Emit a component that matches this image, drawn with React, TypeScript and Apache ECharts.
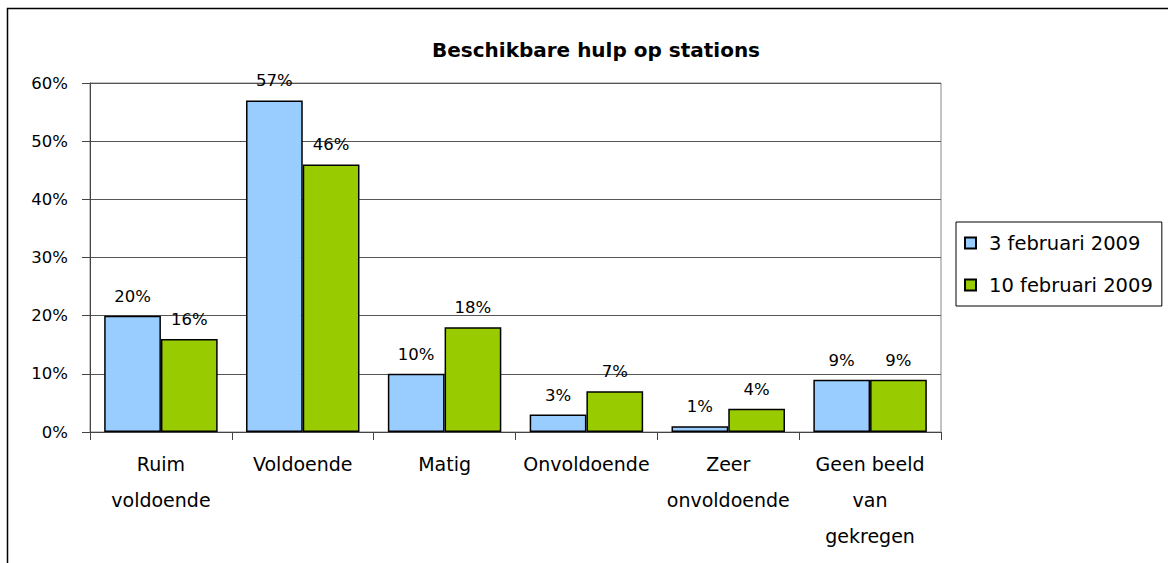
import React, { useEffect, useRef } from "react";
import * as echarts from "echarts";

const categories = ["Ruim\nvoldoende", "Voldoende", "Matig", "Onvoldoende", "Zeer\nonvoldoende", "Geen beeld\nvan\ngekregen"];
const series1Name = "3 februari 2009";
const series2Name = "10 februari 2009";
const series1Values = [20, 57, 10, 3, 1, 9];
const series2Values = [16, 46, 18, 7, 4, 9];
const yTicks = { min: 0, max: 60, interval: 10 };
const titleText = "Beschikbare hulp op stations";

const FONT = "DejaVu Sans";

export default function App() {
  const ref = useRef<HTMLDivElement>(null);
  useEffect(() => {
    if (!ref.current) return;
    const chart = echarts.init(ref.current, null, { renderer: "svg" });
    const label = {
      show: true,
      position: "top" as const,
      distance: 11,
      formatter: "{c}%",
      color: "#000",
      fontFamily: FONT,
      fontSize: 16.5,
    };
    chart.setOption({
      animation: false,
      backgroundColor: "#fff",
      title: {
        text: titleText,
        left: 591,
        top: 35,
        textAlign: "center",
        textStyle: { fontFamily: FONT, fontSize: 20, fontWeight: "bold", color: "#000" },
      },
      legend: {
        orient: "vertical",
        left: 956,
        top: 222,
        padding: [10, 9, 10, 8],
        itemGap: 20,
        itemWidth: 11,
        itemHeight: 11,
        icon: "rect",
        borderColor: "#000",
        borderWidth: 1,
        textStyle: { fontFamily: FONT, fontSize: 19.5, color: "#000", padding: [0, 0, 0, 8], lineHeight: 22 },
        data: [series1Name, series2Name],
      },
      grid: {
        left: 90,
        right: 227,
        top: 83,
        bottom: 131,
        show: true,
        borderColor: "#888",
        borderWidth: 1,
      },
      xAxis: {
        type: "category",
        data: categories,
        axisLine: { lineStyle: { color: "#444", width: 1 } },
        axisTick: { show: true, length: 8, lineStyle: { color: "#444" } },
        axisLabel: {
          interval: 0,
          color: "#000",
          fontFamily: FONT,
          fontSize: 19,
          lineHeight: 36,
          margin: 14,
        },
      },
      yAxis: {
        type: "value",
        min: yTicks.min,
        max: yTicks.max,
        interval: yTicks.interval,
        axisLine: { show: true, lineStyle: { color: "#444" } },
        axisTick: { show: true, length: 8, lineStyle: { color: "#444" } },
        splitLine: { lineStyle: { color: "#555", width: 1 } },
        axisLabel: {
          formatter: "{value}%",
          color: "#000",
          fontFamily: FONT,
          fontSize: 16.5,
          margin: 22,
        },
      },
      series: [
        {
          name: series1Name,
          type: "bar",
          data: series1Values,
          barGap: "0%",
          barCategoryGap: "20%",
          itemStyle: { color: "#99CCFF", borderColor: "#000", borderWidth: 1.5 },
          label,
        },
        {
          name: series2Name,
          type: "bar",
          data: series2Values,
          itemStyle: { color: "#99CC00", borderColor: "#000", borderWidth: 1.5 },
          label,
        },
      ],
      graphic: [
        {
          type: "rect",
          shape: { x: 7.5, y: 8.5, width: 1200, height: 600 },
          style: { fill: "none", stroke: "#000", lineWidth: 1.5 },
          silent: true,
        },
      ],
    });
    return () => chart.dispose();
  }, []);
  return (
    <div
      ref={ref}
      style={{ position: "fixed", left: 0, top: 0, width: 1168, height: 563 }}
    />
  );
}
